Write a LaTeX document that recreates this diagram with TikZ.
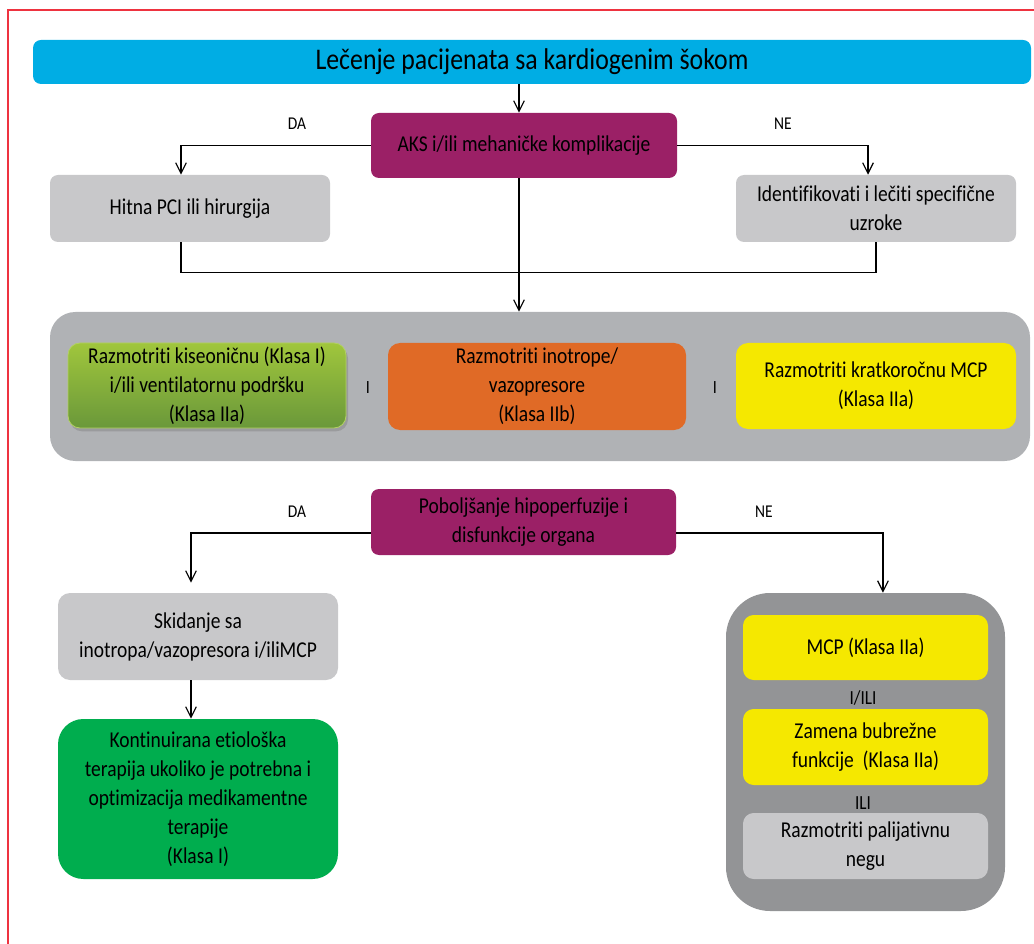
\documentclass[tikz,border=0pt]{standalone}
\usepackage{fontspec}
\setmainfont{Carlito}[FakeStretch=0.86, Ligatures={NoCommon,NoContextual}]
\usetikzlibrary{arrows.meta,shadows,calc}
\definecolor{cTitle}{RGB}{0,173,228}
\definecolor{cPurple}{RGB}{155,32,102}
\definecolor{cLight}{RGB}{200,200,202}
\definecolor{cPanel}{RGB}{176,178,181}
\definecolor{cDark}{RGB}{147,148,150}
\definecolor{cGreenTop}{RGB}{160,198,60}
\definecolor{cGreenBot}{RGB}{106,152,58}
\definecolor{cOrange}{RGB}{224,106,38}
\definecolor{cYellow}{RGB}{245,232,0}
\definecolor{cGreen}{RGB}{0,173,78}
\definecolor{cRed}{RGB}{238,51,64}
\newcommand\fsbody{\fontsize{17}{21.75}\selectfont}
\newcommand\fslbl{\fontsize{13.5}{16}\selectfont}
\newcommand\fsor{\fontsize{15}{18}\selectfont}
\newcommand\fssep{\fontsize{14}{16}\selectfont}
\newcommand\fstitle{\fontsize{22.5}{27}\selectfont}
\tikzset{
  box/.style={rounded corners=6pt, align=center, inner sep=2pt, font=\fsbody, text=black},
  sz/.style 2 args={minimum width=#1*0.75pt, minimum height=#2*0.75pt},
  arr/.style={-{Straight Barb[length=8pt,width=8pt]}, line width=0.9pt},
  ln/.style={line width=0.9pt},
  lbl/.style={font=\fslbl, inner sep=0pt, text=black},
  orlbl/.style={font=\fsor, inner sep=0pt, text=black},
  seplbl/.style={font=\fssep, inner sep=0pt, text=black},
}
\begin{document}
\begin{tikzpicture}[x=0.75pt,y=-0.75pt]
\useasboundingbox (0,0) rectangle (1034,944);
% frame
\draw[cRed, line width=1.1pt] (8,944) -- (8,10) -- (1034,10);
% title
\node[box, fill=cTitle, sz={998}{44}, font=\fstitle] (title) at (532,62) {Lečenje pacijenata sa kardiogenim šokom};
% first decision
\node[box, fill=cPurple, sz={306}{65}] (aks) at (524,145.5) {AKS i/ili mehaničke komplikacije};
\node[box, fill=cLight, sz={280}{67}] (hitna) at (190,208.5) {Hitna PCI ili hirurgija};
\node[box, fill=cLight, sz={280}{67}] (ident) at (876,208.5) {Identifikovati i lečiti specifične\\uzroke};
\node[lbl] (da1) at (297,124) {DA};
\node[lbl] (ne1) at (783,124) {NE};
% panel
\node[fill=cPanel, rounded corners=19pt, sz={980}{149}, inner sep=0pt] (panel) at (540,386.5) {};
\node[box, top color=cGreenTop, bottom color=cGreenBot, draw=cGreenTop!80!white, line width=0.6pt, rounded corners=9pt, sz={278}{85}, drop shadow={opacity=0.45, shadow xshift=1.5pt, shadow yshift=-2.5pt}] (kis) at (207,385.5) {Razmotriti kiseoničnu (Klasa I)\\i/ili ventilatornu podršku\\(Klasa IIa)};
\node[box, fill=cOrange, rounded corners=9pt, sz={298}{87}] (ino) at (537,386.5) {Razmotriti inotrope/\\vazopresore\\(Klasa IIb)};
\node[box, fill=cYellow, rounded corners=9pt, sz={280}{86}] (mcpk) at (876,386) {Razmotriti kratkoročnu MCP\\(Klasa IIa)};
\node[seplbl] (i1) at (368,388) {I};
\node[seplbl] (i2) at (715,388) {I};
% second decision
\node[box, fill=cPurple, sz={305}{66}] (pob) at (523.5,522) {Poboljšanje hipoperfuzije i\\disfunkcije organa};
\node[lbl] (da2) at (297,512) {DA};
\node[lbl] (ne2) at (764,512) {NE};
\node[box, fill=cLight, rounded corners=9pt, sz={280}{87}] (skid) at (198,636.5) {Skidanje sa\\inotropa/vazopresora i/iliMCP};
\node[box, fill=cGreen, rounded corners=19pt, sz={280}{160}] (kont) at (198,799) {Kontinuirana etiološka\\terapija ukoliko je potrebna i\\optimizacija medikamentne\\terapije\\(Klasa I)};
% right panel
\node[fill=cDark, rounded corners=33pt, sz={279}{318}, inner sep=0pt] (dpanel) at (865.5,752) {};
\node[box, fill=cYellow, rounded corners=8pt, sz={245}{65}] (mcp) at (865.5,647.5) {MCP (Klasa IIa)};
\node[orlbl] (ili1) at (863,698) {I/ILI};
\node[box, fill=cYellow, rounded corners=8pt, sz={245}{76}] (zam) at (865.5,747) {Zamena bubrežne\\funkcije~ (Klasa IIa)};
\node[orlbl] (ili2) at (863,803) {ILI};
\node[box, fill=cLight, rounded corners=8pt, sz={245}{66}] (pal) at (865.5,846) {Razmotriti palijativnu\\negu};
% connectors
\draw[arr] ([xshift=-3.75pt]aks.north |- title.south) -- ([xshift=-3.75pt]aks.north);
\draw[arr] (aks.west) -| ([xshift=-6.75pt]hitna.north);
\draw[arr] (aks.east) -| ([xshift=-6pt]ident.north);
\draw[ln] ([xshift=-6.75pt]hitna.south) |- ([yshift=-22.5pt]ident.south) -- (ident.south);
\draw[arr] ([xshift=-3.75pt]aks.south) -- ([xshift=-3.75pt]aks.south |- panel.north);
\draw[arr] ([yshift=-8.25pt]pob.west) -| ([xshift=-5.25pt,yshift=7.5pt]skid.north);
\draw[arr] ([yshift=-8.25pt]pob.east) -| ([xshift=13.1pt]dpanel.north);
\draw[arr] ([xshift=-5.25pt]skid.south) -- ([xshift=-5.25pt]kont.north);
\end{tikzpicture}
\end{document}
